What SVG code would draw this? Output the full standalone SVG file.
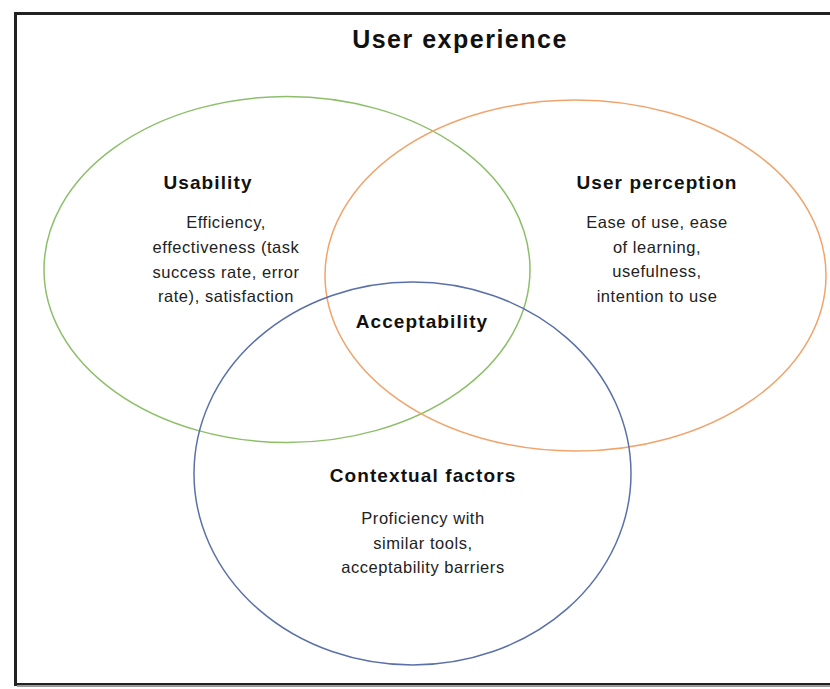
<svg xmlns="http://www.w3.org/2000/svg" width="830" height="689" viewBox="0 0 830 689">
<style>
.h{font-family:"Liberation Sans",Arial,sans-serif;font-weight:bold;font-size:19px;letter-spacing:1.1px;fill:#111;text-anchor:middle}
.b{font-family:"Liberation Sans",Arial,sans-serif;font-size:16.5px;letter-spacing:0.55px;fill:#222;text-anchor:middle}
.c{fill:none;stroke-width:1.5}
</style>
<rect x="0" y="0" width="830" height="689" fill="#fff"/>
<rect x="15.5" y="13.5" width="830" height="671" fill="#fff" stroke="#222" stroke-width="3"/>
<line x1="17" y1="686" x2="830" y2="686" stroke="#999" stroke-width="2"/>
<text x="460" y="48" class="h" style="font-size:25px;letter-spacing:1.5px">User experience</text>
<g id="connectors"></g>
<g id="usability">
<ellipse cx="287" cy="269.5" rx="243" ry="173" class="c" stroke="#8dbf6a"/>
<text x="208" y="189" class="h">Usability</text>
<text class="b"><tspan x="226" y="228">Efficiency,</tspan><tspan x="226" y="253">effectiveness (task</tspan><tspan x="226" y="278">success rate, error</tspan><tspan x="226" y="302">rate), satisfaction</tspan></text>
</g>
<g id="perception">
<ellipse cx="575.5" cy="275.5" rx="250.5" ry="175.5" class="c" stroke="#f0a46c"/>
<text x="657" y="189" class="h">User perception</text>
<text class="b"><tspan x="657" y="228">Ease of use, ease</tspan><tspan x="657" y="253">of learning,</tspan><tspan x="657" y="277">usefulness,</tspan><tspan x="657" y="302">intention to use</tspan></text>
</g>
<g id="contextual">
<ellipse cx="412.5" cy="473.5" rx="218.5" ry="191.5" class="c" stroke="#5a70a8"/>
<text x="423" y="482" class="h">Contextual factors</text>
<text class="b"><tspan x="423" y="524">Proficiency with</tspan><tspan x="423" y="549">similar tools,</tspan><tspan x="423" y="573">acceptability barriers</tspan></text>
</g>
<g id="acceptability">
<text x="422" y="328" class="h">Acceptability</text>
</g>
</svg>
